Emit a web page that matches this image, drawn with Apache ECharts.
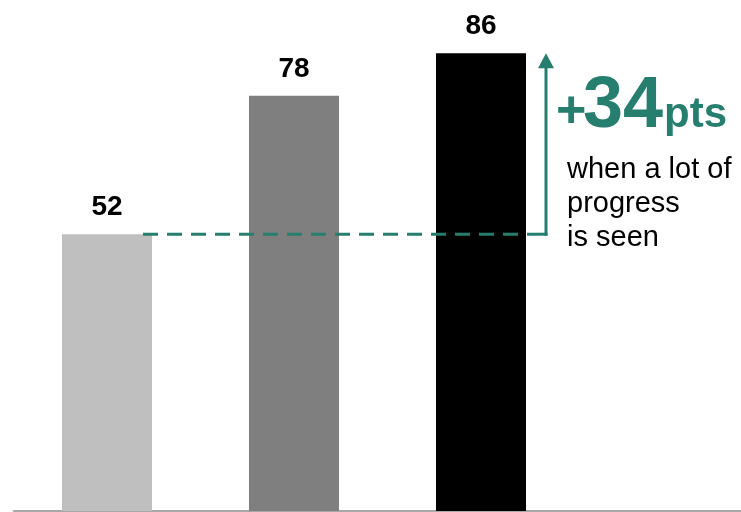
<!DOCTYPE html>
<html>
<head>
<meta charset="utf-8">
<script src="https://cdn.jsdelivr.net/npm/echarts@6/dist/echarts.min.js"></script>
<style>
  html, body { margin: 0; padding: 0; background: #fff; }
  #chart { width: 741px; height: 512px; }
</style>
</head>
<body>
<div id="chart"></div>
<script>
// Scores for the three groups, from least to most progress seen
const categories = ['Little progress', 'Some progress', 'A lot of progress'];
const scores = [52, 78, 86];
const barColors = ['#BFBFBF', '#7F7F7F', '#000000'];

// Gain highlighted by the arrow: from the first group to the last
const fromIndex = 0;
const toIndex = 2;
const gainNote = ['when a lot of', 'progress', 'is seen'];

const TEAL = '#267E6E';
const gain = scores[toIndex] - scores[fromIndex];
const FONT = '"Liberation Sans", Arial, sans-serif';

const chart = echarts.init(document.getElementById('chart'), null, { renderer: 'canvas' });

// Places a text so that its alphabetic baseline sits at yBase
function textAt(str, x, yBase, size, weight, color) {
  return {
    type: 'text',
    style: {
      text: str, x: x, y: yBase - 0.78 * size,
      font: weight + ' ' + size + 'px ' + FONT,
      fill: color, textAlign: 'left', textVerticalAlign: 'top'
    }
  };
}

chart.setOption({
  animation: false,
  grid: {
    left: 13.5, width: 748, top: 0, bottom: 1,
    containLabel: false,
    outerBoundsMode: 'none'
  },
  xAxis: {
    type: 'category',
    data: categories,
    max: 3,
    axisLine: { show: true, lineStyle: { color: '#8C8C8C', width: 1.5 } },
    axisTick: { show: false },
    axisLabel: { show: false },
    splitLine: { show: false }
  },
  yAxis: {
    type: 'value',
    min: 0,
    max: 96,
    show: false,
    splitLine: { show: false }
  },
  series: [
    {
      type: 'bar',
      barWidth: 90,
      data: scores.map((v, i) => ({ value: v, itemStyle: { color: barColors[i] } })),
      label: {
        show: true,
        position: 'top',
        distance: 13,
        color: '#000',
        fontFamily: FONT,
        fontWeight: 'bold',
        fontSize: 28
      },
      z: 2
    },
    {
      // Dashed baseline from the first bar and the arrow up to the last bar's level
      type: 'custom',
      z: 5,
      silent: true,
      clip: false,
      data: [[fromIndex, scores[fromIndex], toIndex, scores[toIndex]]],
      renderItem: function (params, api) {
        const start = api.coord([api.value(0), api.value(1)]);
        const end = api.coord([api.value(2), api.value(3)]);
        const xStart = start[0] + 36;
        const xArrow = end[0] + 65;
        const yLow = start[1];
        const yHigh = end[1];
        const headH = 15;
        const headW = 16;
        const yBig = yHigh + 74;
        return {
          type: 'group',
          children: [
            {
              type: 'line',
              shape: { x1: xStart, y1: yLow, x2: xArrow - 9, y2: yLow },
              style: { stroke: TEAL, lineWidth: 3, lineDash: [15, 9] }
            },
            {
              type: 'line',
              shape: { x1: xArrow - 9, y1: yLow, x2: xArrow + 1.5, y2: yLow },
              style: { stroke: TEAL, lineWidth: 3 }
            },
            {
              type: 'line',
              shape: { x1: xArrow, y1: yLow + 1.5, x2: xArrow, y2: yHigh + headH - 1 },
              style: { stroke: TEAL, lineWidth: 3 }
            },
            {
              type: 'polygon',
              shape: {
                points: [
                  [xArrow, yHigh],
                  [xArrow - headW / 2, yHigh + headH],
                  [xArrow + headW / 2, yHigh + headH]
                ]
              },
              style: { fill: TEAL }
            },
            textAt('+', xArrow + 10, yBig, 52, 'bold', TEAL),
            textAt(String(gain), xArrow + 37, yBig, 72, 'bold', TEAL),
            textAt('pts', xArrow + 118, yBig, 42, 'bold', TEAL)
          ].concat(gainNote.map(function (line, i) {
            return textAt(line, xArrow + 21, yHigh + 125 + i * 34, 29, 'normal', '#000');
          }))
        };
      }
    }
  ]
});
</script>
</body>
</html>
